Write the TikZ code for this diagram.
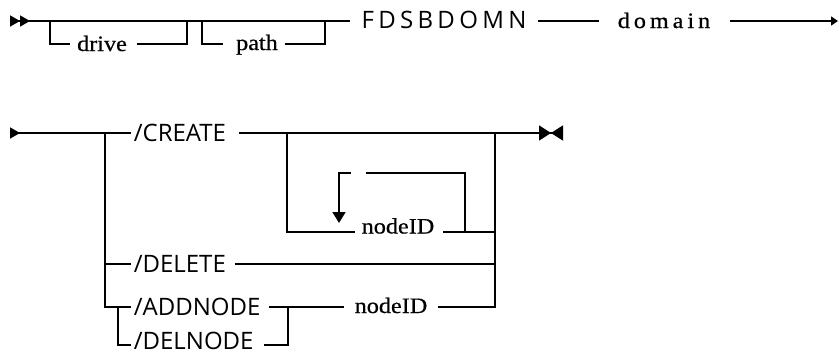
\documentclass[tikz,border=0pt]{standalone}
\usepackage{fontspec}
\setmainfont{Liberation Serif}
\newfontfamily\kwfont{Open Sans}
\newfontfamily\cmdfont[LetterSpace=18]{Open Sans}
\newfontfamily\argfont[FakeStretch=1.1, FakeBold=0.6]{Liberation Serif}
\usetikzlibrary{arrows.meta}

\begin{document}
\begin{tikzpicture}[x=1pt, y=-1pt, line width=1.6pt,
  kw/.style={font={\kwfont\fontsize{24}{28}\selectfont}, anchor=west, inner sep=0pt, text height=17pt, text depth=0pt},
  cmd/.style={font={\cmdfont\fontsize{24}{28}\selectfont}, inner sep=0pt, text height=14pt, text depth=0pt},
  arg/.style={font={\argfont\fontsize{22}{26}\selectfont}, inner sep=0pt, text height=14pt, text depth=0pt},
  tri/.tip={Triangle[length=10pt, width=11pt]}]

  \useasboundingbox (0,0) rectangle (839,354);

  % Define coordinates for the first line
  \coordinate (s1) at (10,21);
  \coordinate (e1) at (838,21);
  \coordinate (a1) at (50,21);
  \coordinate (a2) at (50,44);
  \coordinate (b1) at (187,21);
  \coordinate (b2) at (187,44);
  \coordinate (c1) at (202,21);
  \coordinate (c2) at (202,44);
  \coordinate (d1) at (325,21);
  \coordinate (d2) at (325,44);

  \node[arg] (drive) at (102,44) {drive};
  \node[arg, text height=12pt] (path) at (257,44) {path};
  \node[cmd] (fds) at (444,21) {FDSBDOMN};
  \node[arg, font={\argfont\fontsize{22}{26}\selectfont\addfontfeature{LetterSpace=18}}] (domain) at (664,21) {domain};

  % Draw the first line
  \draw[{tri[reversed] tri[reversed]}-] (s1) -- ([xshift=-11pt]fds.west);
  \draw (a1) -- (a2) -- ([xshift=-6pt]drive.west);
  \draw ([xshift=9pt]drive.east) -- (b2) -- (b1);
  \draw (c1) -- (c2) -- ([xshift=-12pt]path.west);
  \draw ([xshift=6pt]path.east) -- (d2) -- (d1);
  \draw ([xshift=11pt]fds.east) -- ([xshift=-18pt]domain.west);
  \draw[-{Triangle[length=7pt, width=9pt]}] ([xshift=19pt]domain.east) -- (e1);

  % Define coordinates for the second line
  \coordinate (s2) at (10,133);
  \coordinate (e2) at (563,133);
  \coordinate (j1) at (105,133);
  \coordinate (j2) at (105,264);
  \coordinate (j3) at (105,307);
  \coordinate (k1) at (495,133);
  \coordinate (k2) at (495,232);
  \coordinate (k3) at (495,264);
  \coordinate (k4) at (495,307);
  \coordinate (m1) at (287,133);
  \coordinate (m2) at (287,232);
  \coordinate (r1) at (465,232);
  \coordinate (r2) at (465,173);
  \coordinate (r3) at (366,173);
  \coordinate (r4) at (351,173);
  \coordinate (r5) at (339,173);
  \coordinate (r6) at (339,223);
  \coordinate (q1) at (118,307);
  \coordinate (q2) at (118,345);
  \coordinate (p1) at (288,307);
  \coordinate (p2) at (288,345);

  \node[kw] (create) at (133,133) {/CREATE};
  \node[kw] (delete) at (133,264) {/DELETE};
  \node[kw] (addnode) at (133,307) {/ADDNODE};
  \node[kw, text height=9pt] (delnode) at (133,345) {/DELNODE};
  \node[arg, text height=3pt] (nodeid) at (398,232) {nodeID};
  \node[arg, text height=12pt] (nodeidb) at (391,307) {nodeID};

  % Draw the second line
  \draw[{tri[reversed]}-] (s2) -- ([xshift=-2pt]create.west);
  \draw (j1) -- (j3) -- ([xshift=-2pt]addnode.west);
  \draw (j2) -- ([xshift=-2pt]delete.west);
  \draw[-{Triangle[length=12pt, width=15pt] Triangle[length=12pt, width=15pt, reversed]}] ([xshift=12pt]create.east) -- (e2);
  \draw (k1) -- (k4) -- ([xshift=10pt]nodeidb.east);
  \draw (m1) -- (m2) -- ([xshift=-6pt]nodeid.west);
  \draw ([xshift=8pt]nodeid.east) -- (k2);
  \draw (r1) -- (r2) -- (r3);
  \draw[-{Triangle[length=11pt, width=13pt]}] (r4) -- (r5) -- (r6);
  \draw ([xshift=8pt]delete.east) -- (k3);
  \draw ([xshift=8pt]addnode.east) -- ([xshift=-10pt]nodeidb.west);
  \draw (q1) -- (q2) -- ([xshift=-2pt]delnode.west);
  \draw ([xshift=10pt]delnode.east) -- (p2) -- (p1);
\end{tikzpicture}
\end{document}
